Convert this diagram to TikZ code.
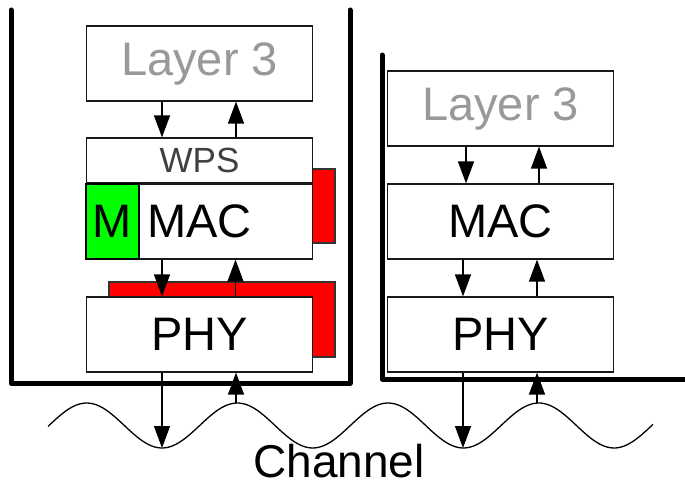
\documentclass[tikz,border=0pt]{standalone}
\usepackage{fontspec}
\setmainfont{Liberation Sans}
\usetikzlibrary{arrows.meta}

\begin{document}
\begin{tikzpicture}[x=1pt, y=-1pt, line width=1.2pt,
	box/.style={draw=black!90, fill=white, minimum width=226pt, minimum height=75pt, inner sep=0pt, font=\fontsize{47}{47}\selectfont},
	arr/.style={line width=1.3pt, -{Triangle[length=22pt, width=16pt]}},
	wall/.style={line width=5pt, line cap=round, line join=round}]
	\definecolor{layergray}{RGB}{153, 153, 153};
\definecolor{wpsgray}{RGB}{64, 64, 64};
\definecolor{red}{RGB}{255, 0, 0};
\definecolor{green}{RGB}{0, 255, 0};

% \layerbox#name#x#y#text
\def\layerbox#1#2#3#4{
	\node[box] (#1) at (#2, #3) {#4};
}

% \updown#from#to#left#right
\def\updown#1#2#3#4{
	\draw[arr] ([xshift=#3]#1.south) -- ([xshift=#3]#2.north); % down
	\draw[arr] ([xshift=#4]#2.north) -- ([xshift=#4]#1.south); % up
}

	\useasboundingbox (0, 0) rectangle (685, 489);

	% red marks behind the left stack
	\filldraw[fill=red, draw=black!80] (290, 169) rectangle (335, 243);
	\filldraw[fill=red, draw=black!80] (109, 282) rectangle (335, 357);

	% left stack
	\layerbox{layA}{199.5}{63.5}{\textcolor{layergray}{Layer 3}}
	\node[box, minimum height=45pt, font=\fontsize{35}{35}\selectfont, text=wpsgray] (wps) at (199.5, 160.5) {WPS};
	\layerbox{macA}{199.5}{221.5}{MAC}
	\node[draw=black, line width=2pt, fill=green, minimum width=53pt, minimum height=75pt, inner sep=0pt, font=\fontsize{47}{47}\selectfont] (mon) at (112.5, 221.5) {M};
	\layerbox{phyA}{199.5}{334.5}{PHY}
	\updown{layA}{wps}{-37.5}{36.5}
	\updown{macA}{phyA}{-37.5}{36}

	% right stack
	\layerbox{layB}{500.5}{108.5}{\textcolor{layergray}{Layer 3}}
	\layerbox{macB}{500.5}{221.5}{MAC}
	\layerbox{phyB}{500.5}{334.5}{PHY}
	\updown{layB}{macB}{-34.5}{38.5}
	\updown{macB}{phyB}{-37.5}{36.5}

	% walls
	\draw[wall] (11, 10) -- (11, 383) -- (350, 383) -- (350, 10);
	\draw[wall] (382, 55) -- (382, 379) -- (686, 379);

	% channel
	\draw[line width=1.3pt, domain=48:653, samples=200, smooth] plot (\x, {425.5 + 22.5 * cos(2.3889 * (\x - 162))});
	\coordinate (lowA) at (162, 448);
	\coordinate (topA) at (236, 403);
	\coordinate (lowB) at (463, 448);
	\coordinate (topB) at (537, 403);
	\draw[arr] ([xshift=-37.5]phyA.south) -- (lowA);
	\draw[arr] (topA) -- ([xshift=36.5]phyA.south);
	\draw[arr] ([xshift=-37.5]phyB.south) -- (lowB);
	\draw[arr] (topB) -- ([xshift=36.5]phyB.south);
	\node[inner sep=0pt, font=\fontsize{46}{46}\selectfont] (chan) at (339, 461) {Channel};
\end{tikzpicture}
\end{document}
